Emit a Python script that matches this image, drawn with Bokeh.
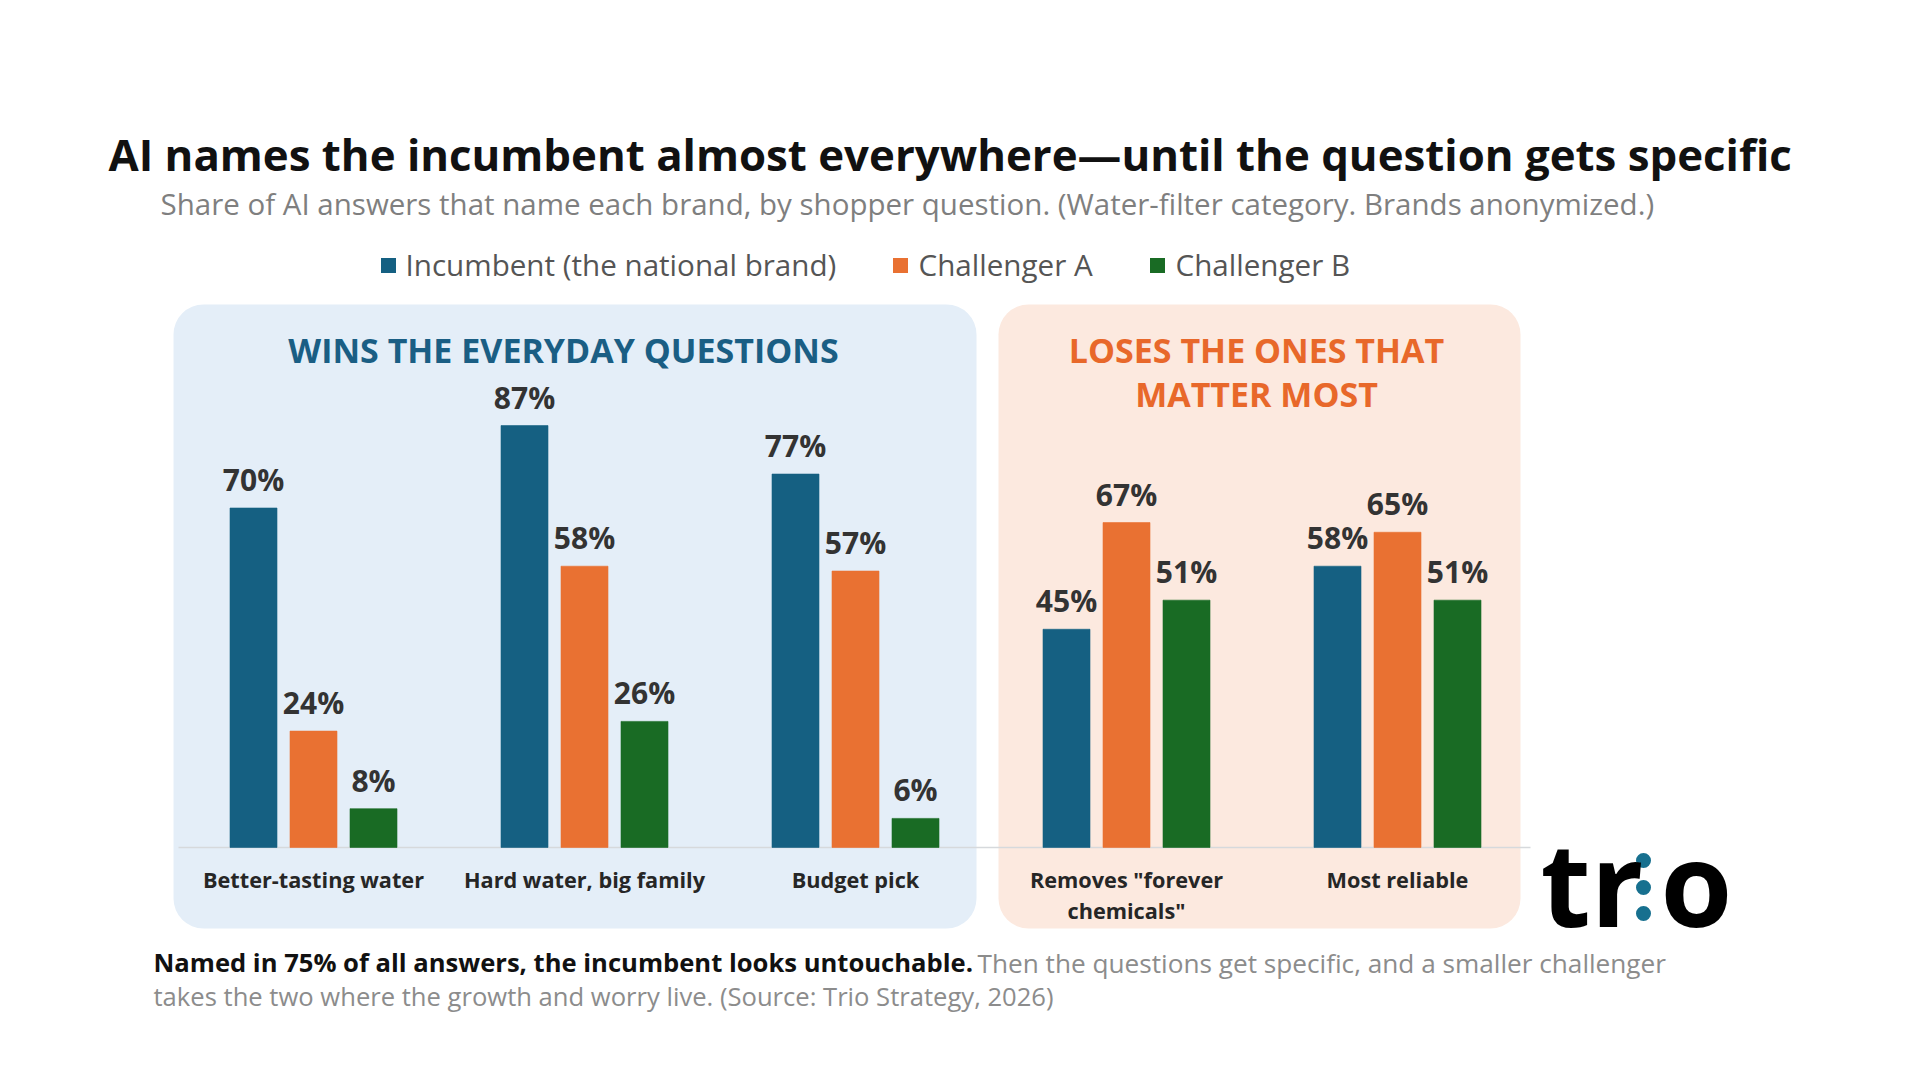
from bokeh.plotting import figure
from bokeh.models import Range1d, ColumnDataSource, Label
from bokeh.core.properties import value
from bokeh.embed import file_html
from bokeh.resources import INLINE

# ---- data ----
questions = ["Better-tasting water", "Hard water, big family", "Budget pick",
             'Removes "forever\nchemicals"', "Most reliable"]
series = ["Incumbent (the national brand)", "Challenger A", "Challenger B"]
incumbent = [70, 87, 77, 45, 58]
challenger_a = [24, 58, 57, 67, 65]
challenger_b = [8, 26, 6, 51, 51]
colors = ["#156082", "#E97132", "#196B24"]

# ---- canvas geometry (pixels) ----
W, H = 1920, 1080
GROUP0_PX, GROUP_STEP_PX = 313, 271      # centre of first group, spacing
BASE_PX, PX_PER_PCT = 847, 4.85          # baseline row, pixels per percentage point


def X(px):
    return (px - GROUP0_PX) / GROUP_STEP_PX


def Y(py):
    return (BASE_PX - py) / PX_PER_PCT


p = figure(width=W, height=H, output_backend="svg", toolbar_location=None,
           x_range=Range1d(X(0), X(W)), y_range=Range1d(Y(H), Y(0)),
           min_border=0, outline_line_color=None, background_fill_color="white",
           border_fill_color="white")
p.axis.visible = False
p.grid.visible = False

FN = "Open Sans"
FONT = value(FN)

# ---- panels ----
p.quad(left=[X(173)], right=[X(976)], top=[Y(304)], bottom=[Y(928)],
       fill_color="#E4EEF8", line_color=None, border_radius=30)
p.quad(left=[X(998)], right=[X(1520)], top=[Y(304)], bottom=[Y(928)],
       fill_color="#FCE9DF", line_color=None, border_radius=30)

# baseline
p.segment(x0=[X(178)], x1=[X(1530)], y0=[0], y1=[0], line_color="#d6d9dc", line_width=1.5)

# ---- bars ----
bar_w = 47 / GROUP_STEP_PX
offsets = [-60 / GROUP_STEP_PX, 0, 60 / GROUP_STEP_PX]
for vals, off, col in zip([incumbent, challenger_a, challenger_b], offsets, colors):
    src = ColumnDataSource(dict(
        x=[i + off for i in range(len(questions))],
        top=vals,
        label=[f"{v}%" for v in vals],
    ))
    p.vbar(x="x", top="top", bottom=0, width=bar_w, source=src,
           fill_color=col, line_color=col, line_alpha=0.6)
    p.text(x="x", y="top", text="label", source=src, text_font=FONT,
           text_font_style="bold", text_font_size="30px", text_color="#333333",
           text_align="center", text_baseline="bottom", y_offset=-8)

# category labels
cat_src = ColumnDataSource(dict(x=list(range(len(questions))), y=[Y(864)] * len(questions),
                                text=questions))
p.text(x="x", y="y", text="text", source=cat_src, text_font=FONT,
       text_font_style="bold", text_font_size="21.7px", text_color="#262626",
       text_align="center", text_baseline="top", text_line_height=1.08)

# ---- panel headings ----
HEAD = dict(text_font=FN, text_font_style="bold", text_font_size="34px",
            text_align="center", text_baseline="middle")
p.add_layout(Label(x=X(563), y=Y(349), text="WINS THE EVERYDAY QUESTIONS",
                   text_color="#1A5E84", **HEAD))
p.add_layout(Label(x=X(1256), y=Y(349), text="LOSES THE ONES THAT",
                   text_color="#E8682A", **HEAD))
p.add_layout(Label(x=X(1256), y=Y(393), text="MATTER MOST",
                   text_color="#E8682A", **HEAD))

# ---- title & subtitle ----
p.add_layout(Label(x=X(108), y=Y(153), text="AI names the incumbent almost everywhere\u2014until the question gets specific",
                   text_font=FN, text_font_style="bold", text_font_size="43.8px",
                   text_color="#111111", text_align="left", text_baseline="middle"))
p.add_layout(Label(x=X(160), y=Y(203), text="Share of AI answers that name each brand, by shopper question. (Water-filter category. Brands anonymized.)",
                   text_font=FN, text_font_size="29.5px",
                   text_color="#7F7F7F", text_align="left", text_baseline="middle"))

# ---- legend ----
leg_sq_px = [388, 900, 1157]
leg_txt_px = [405, 918, 1175]
p.scatter(x=[X(v) for v in leg_sq_px], y=[Y(265)] * 3, marker="square", size=15,
          fill_color=colors, line_color=None)
p.text(x=[X(v) for v in leg_txt_px], y=[Y(264)] * 3, text=series, text_font=FONT,
       text_font_size="29.6px", text_color="#555555", text_align="left",
       text_baseline="middle")

# ---- footer ----
FOOT = dict(text_font=FN, text_font_size="25.6px", text_align="left", text_baseline="middle")
p.add_layout(Label(x=X(153), y=Y(962), text="Named in 75% of all answers, the incumbent looks untouchable.",
                   text_font_style="bold", text_color="#111111", **FOOT))
p.add_layout(Label(x=X(977), y=Y(962), text="Then the questions get specific, and a smaller challenger",
                   text_color="#8C8C8C", text_font=FN, text_font_size="26.2px",
                   text_align="left", text_baseline="middle"))
p.add_layout(Label(x=X(153), y=Y(996), text="takes the two where the growth and worry live. (Source: Trio Strategy, 2026)",
                   text_color="#8C8C8C", **FOOT))

# ---- logo ----
LOGO = dict(text_font=FN, text_font_style="bold", text_font_size="116px",
            text_color="#000000", text_align="left", text_baseline="middle")
p.add_layout(Label(x=X(1540), y=Y(881), text="tr", **LOGO))
p.add_layout(Label(x=X(1660), y=Y(881), text="o", **LOGO))
p.circle(x=[X(1643)] * 3, y=[Y(860), Y(887), Y(913)], radius=7.5, radius_units="screen",
         fill_color="#17708F", line_color=None)

open("out.html", "w").write(file_html(p, INLINE))
